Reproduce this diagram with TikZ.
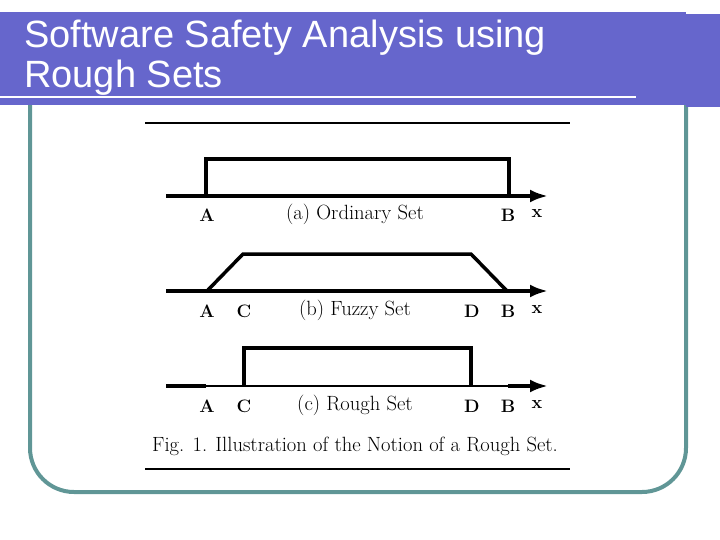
\documentclass[tikz,border=0pt]{standalone}
\usepackage{fontspec}
\newfontfamily\titlefont{Liberation Sans}
\usetikzlibrary{arrows.meta}
\definecolor{titleblue}{RGB}{102,102,204}
\definecolor{frameteal}{RGB}{96,150,150}
\tikzset{
    setline/.style={line width=3.5pt},
    axisline/.style={line width=4.5pt},
    arrowline/.style={line width=4.5pt,-{Latex[length=18pt,width=13pt]}},
    ptlabel/.style={font=\fontsize{18}{20}\selectfont\bfseries},
    setname/.style={font=\fontsize{20.6}{24}\selectfont},
}

\begin{document}
\begin{tikzpicture}[x=1pt,y=-1pt]
            \useasboundingbox (0,0) rectangle (720,540);
            \draw[frameteal,line width=4pt,rounded corners=44pt] (30,100) -- (30,492) -- (686,492) -- (686,100);
            \fill[titleblue] (0,12) rectangle (686,105);
            \fill[titleblue] (686,14) rectangle (720,107);
            \draw[white,line width=2pt] (0,97) -- (636,97);
            \node[anchor=base west,white,inner sep=0pt,font=\titlefont\fontsize{38}{40}\selectfont] (t1) at (24,48) {Software Safety Analysis using};
            \node[anchor=base west,white,inner sep=0pt,font=\titlefont\fontsize{38}{40}\selectfont] (t2) at (24,88) {Rough Sets};
            \draw[line width=2pt] (145,123) -- (570,123);
            \draw[line width=2pt] (145,469) -- (570,469);
            % (a)
            \coordinate (a0) at (166,196);
            \coordinate (aA) at (206,196);
            \coordinate (aB) at (509,196);
            \coordinate (aE) at (548,196);
            \draw[arrowline] (a0) -- (aE);
            \draw[setline] (aA) -- (206,159) -- (509,159) -- (aB);
            \node[ptlabel] (la) at (207,215) {A};
            \node[setname] (na) at (355,214) {(a) Ordinary Set};
            \node[ptlabel] (lb) at (508,215) {B};
            \node[ptlabel] (lx) at (537,214) {x};
            % (b)
            \coordinate (b0) at (166,291);
            \coordinate (bA) at (207,291);
            \coordinate (bC) at (243,254);
            \coordinate (bD) at (471,254);
            \coordinate (bB) at (507,291);
            \coordinate (bE) at (548,291);
            \draw[arrowline] (b0) -- (bE);
            \draw[setline] (bA) -- (bC) -- (bD) -- (bB);
            \node[ptlabel] (ba) at (207,311) {A};
            \node[ptlabel] (bc) at (244,311) {C};
            \node[setname] (nb) at (355,310) {(b) Fuzzy Set};
            \node[ptlabel] (bd) at (472,311) {D};
            \node[ptlabel] (bb) at (508,311) {B};
            \node[ptlabel] (bx) at (537,310) {x};
            % (c)
            \coordinate (c0) at (166,386);
            \coordinate (cA) at (206,386);
            \coordinate (cC) at (244,386);
            \coordinate (cD) at (471,386);
            \coordinate (cB) at (508,386);
            \coordinate (cE) at (548,386);
            \draw[axisline] (c0) -- (cA);
            \draw[line width=2pt] (cA) -- (cB);
            \draw[arrowline] (cB) -- (cE);
            \draw[setline] (cC) -- (244,348) -- (471,348) -- (cD);
            \node[ptlabel] (ca) at (207,406) {A};
            \node[ptlabel] (cc) at (244,406) {C};
            \node[setname] (nc) at (355,405) {(c) Rough Set};
            \node[ptlabel] (cd) at (472,406) {D};
            \node[ptlabel] (cb) at (508,406) {B};
            \node[ptlabel] (cx) at (537,405) {x};
            \node[setname] (fig) at (355,446) {Fig. 1. Illustration of the Notion of a Rough Set.};
        \end{tikzpicture}
\end{document}
